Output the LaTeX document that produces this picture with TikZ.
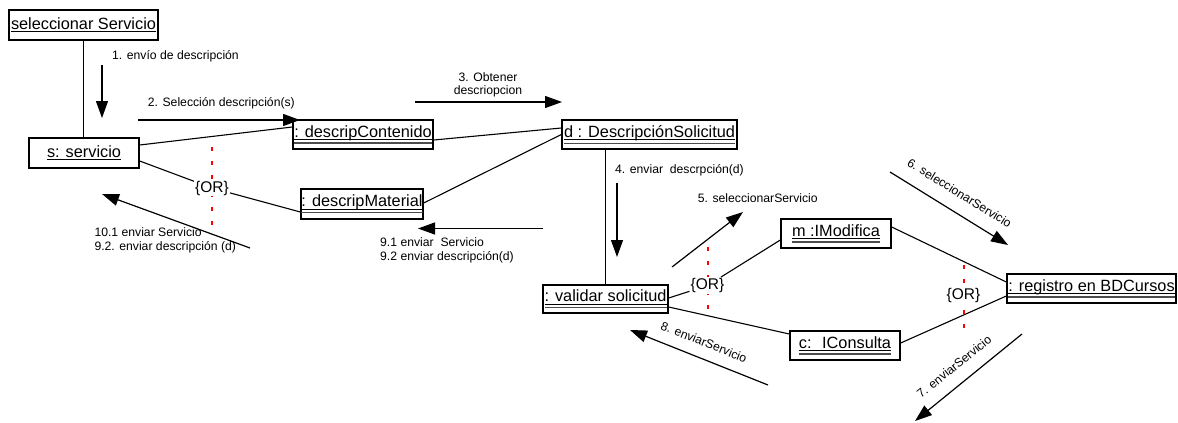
\documentclass[tikz,border=0pt]{standalone}
\usepackage{fontspec}
\setmainfont{Liberation Sans}
\usetikzlibrary{arrows.meta}

% object names: single and double underline drawn as rules under the text
\newcommand\ulone[1]{\setbox0=\hbox{#1}\dp0=0pt\vtop{\box0\kern2pt\hrule height 1pt}}
\newcommand\ultwo[1]{\setbox0=\hbox{#1}\dp0=0pt\vtop{\box0\kern2pt\hrule height 1pt\kern2.2pt{\color{black!70}\hrule height 1.2pt}}}

\tikzset{
  obj/.style={draw, line width=1.4pt, inner sep=0pt, fill=white,
              font=\fontsize{16.3}{19}\selectfont},
  lbl/.style={inner sep=0pt, font=\fontsize{12.2}{13.7}\selectfont},
  orlbl/.style={inner sep=1pt, font=\fontsize{15.5}{18}\selectfont},
  link/.style={line width=1.1pt},
  msg/.style={line width=1.2pt, -{Triangle[length=17pt,width=12pt]}},
  ordash/.style={red, line width=2pt, dash pattern=on 4pt off 10pt},
}

\begin{document}
\begin{tikzpicture}[x=1pt,y=-1pt]
\fill[white] (0,0) rectangle (1178,423);
\useasboundingbox (0,0) rectangle (1178,423);

% objects
\node[obj, minimum width=149pt, minimum height=30pt] (sel)  at (83.5,25)   {\ulone{seleccionar Servicio}};
\node[obj, minimum width=110pt, minimum height=30pt] (serv) at (84,153)    {\ulone{s: servicio}};
\node[obj, minimum width=140pt, minimum height=29pt] (cont) at (363,134.5) {\ultwo{: descripContenido}};
\node[obj, minimum width=122pt, minimum height=30pt] (mat)  at (362,204)   {\ultwo{: descripMaterial}};
\node[obj, minimum width=175pt, minimum height=29pt] (dsol) at (649.5,134.5) {\ultwo{d : DescripciónSolicitud}};
\node[obj, minimum width=125pt, minimum height=28pt] (val)  at (605.5,299) {\ultwo{: validar solicitud}};
\node[obj, minimum width=110pt, minimum height=29pt] (mod)  at (836,233.5) {\ultwo{m :IModifica}};
\node[obj, minimum width=110pt, minimum height=29pt] (cons) at (845,345.5) {\ultwo{c:~ IConsulta}};
\node[obj, minimum width=169pt, minimum height=29pt] (reg)  at (1091.5,288.5) {\ultwo{: registro en BDCursos}};

% {OR} constraints
\node[orlbl] (or1) at (212,188)   {\{OR\}};
\node[orlbl] (or2) at (707.5,285.5) {\{OR\}};
\node[orlbl] (or3) at (963.5,295) {\{OR\}};

% links
\draw[link] (sel.south) -- (sel.south |- serv.north);
\draw[link] ([yshift=8pt]serv.east) -- ([yshift=7.5pt]cont.west);
\draw[link] ([yshift=-8pt]serv.east) -- (or1) -- ([yshift=-8pt]mat.west);
\draw[link] ([yshift=-5.5pt]cont.east) -- ([yshift=6.5pt]dsol.west);
\draw[link] ([yshift=1pt]mat.east) -- (dsol.west);
\draw[link] (val.north) -- (val.north |- dsol.south);
\draw[link] ([yshift=1pt]val.east) -- (or2) -- ([yshift=-6.5pt]mod.west);
\draw[link] ([yshift=-8pt]val.east) -- ([yshift=11.5pt]cons.west);
\draw[link] ([yshift=6.5pt]mod.east) -- ([yshift=6.5pt]reg.west);
\draw[link] ([yshift=2.5pt]cons.east) -- ([yshift=-7.5pt]reg.west);

% red dotted marks of the constraints
\coordinate (o1t) at (212,147);  \coordinate (o1b) at (212,225);
\coordinate (o2t) at (707.5,247); \coordinate (o2b) at (707.5,309);
\coordinate (o3t) at (963.5,265); \coordinate (o3b) at (963.5,328);
\draw[ordash] (o1t) -- (or1.north);  \draw[ordash] (o1b) -- (or1.south);
\draw[ordash] (o2t) -- (or2.north);  \draw[ordash] (o2b) -- (or2.south);
\draw[ordash] (o3t) -- (or3.north);  \draw[ordash] (o3b) -- (or3.south);

% messages
\coordinate (m1s) at (102,65);    \coordinate (m1e) at (102,118);
\coordinate (m2s) at (138,120);   \coordinate (m2e) at (300,120);
\coordinate (m3s) at (415,102);   \coordinate (m3e) at (562,102);
\coordinate (m4s) at (617,183);   \coordinate (m4e) at (617,257);
\coordinate (m5s) at (672,267);   \coordinate (m5e) at (743,212);
\coordinate (m6s) at (890,172);   \coordinate (m6e) at (1008,245);
\coordinate (m7s) at (1022,334);  \coordinate (m7e) at (915,421);
\coordinate (m8s) at (768,385);   \coordinate (m8e) at (630,330);
\coordinate (m9s) at (543,228.5); \coordinate (m9e) at (418,228.5);
\coordinate (m10s) at (250,248);  \coordinate (m10e) at (102,194);
\foreach \m in {1,2,3,4,5,6,7,8,9,10} \draw[msg] (m\m s) -- (m\m e);

% message labels
\node[lbl, anchor=base west] (l1) at (112,59.3) {1. envío de descripción};
\node[lbl, anchor=base west] (l2) at (147.7,106) {2. Selección descripción(s)};
\node[lbl, anchor=north, align=center] (l3) at (488,72) {3. Obtener\\descriopcion};
\node[lbl, anchor=base west] (l4) at (615,173.5) {4. enviar~ descrpción(d)};
\node[lbl, anchor=base west] (l5) at (697.7,202.7) {5. seleccionarServicio};
\node[lbl, rotate=-31.7] (l6) at (959.5,193) {6. seleccionarServicio};
\node[lbl, rotate=38.8] (l7) at (954,366.5) {7. enviarServicio};
\node[lbl, rotate=-21.7] (l8) at (704,342) {8. enviarServicio};
\node[lbl, anchor=north west, align=left] (l9) at (380,237.7) {9.1 enviar~ Servicio\\9.2 enviar descripción(d)};
\node[lbl, anchor=north west, align=left] (l10) at (94.3,227.7) {10.1 enviar Servicio\\9.2. enviar descripción (d)};
\end{tikzpicture}
\end{document}
